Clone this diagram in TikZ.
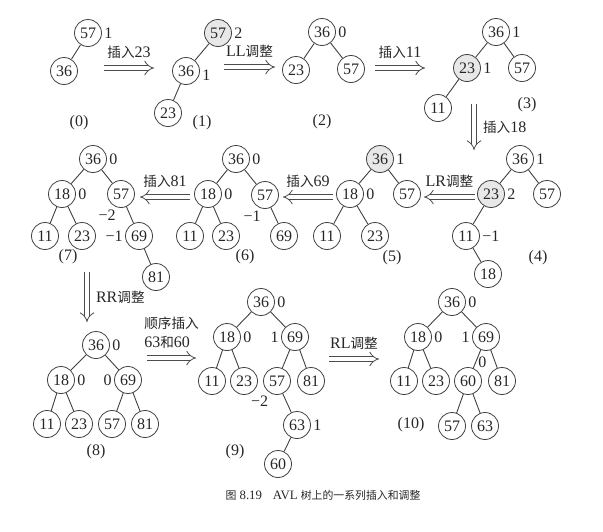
\documentclass[tikz,border=0pt]{standalone}
\usepackage{fontspec}
\setmainfont{Liberation Serif}
\newfontfamily\cjk[Scale=0.85]{Noto Sans CJK SC}
\usetikzlibrary{arrows.meta,positioning}

\begin{document}
\begin{tikzpicture}[x=0.5pt, y=-0.5pt,
    font=\fontsize{8}{9.5}\selectfont,
    vtx/.style={circle, draw=black!75, text=black!85, inner sep=0pt, minimum size=13.5pt},
    hot/.style={vtx, fill=gray!18},
    every label/.style={inner sep=1pt, text=black!85},
    tag/.style={text=black!85},
    trans/.style={draw=black!70, line width=0.4pt, double, double distance=2.2pt, -{Implies}},
    link/.style={draw=black!75, line width=0.45pt}
]
    \useasboundingbox (0,0) rectangle (603,531);

    % (0)
    \node[vtx, label=right:1] (t0a) at (88,33) {57};
    \node[vtx] (t0b) at (64,71) {36};
    \draw[link] (t0a) -- (t0b);
    \node[tag] (c0) at (79,123) {(0)};

    % insert 23
    \coordinate (r1s) at (104,68);
    \coordinate (r1e) at (154,68);
    \draw[trans] (r1s) -- node[tag, above=1pt] {{\cjk 插入}23} (r1e);

    % (1)
    \node[hot, label=right:2] (t1a) at (218,33) {57};
    \node[vtx, label={[yshift=-2pt]right:1}] (t1b) at (186,71) {36};
    \node[vtx] (t1c) at (168,113) {23};
    \draw[link] (t1a) -- (t1b) (t1b) -- (t1c);
    \node[tag] (c1) at (202,123) {(1)};

    % LL
    \coordinate (r2s) at (224,67);
    \coordinate (r2e) at (275,67);
    \draw[trans] (r2s) -- node[tag, above=1pt] {LL{\cjk 调整}} (r2e);

    % (2)
    \node[vtx, label=right:0] (t2a) at (322,32) {36};
    \node[vtx] (t2b) at (296,70) {23};
    \node[vtx] (t2c) at (351,69) {57};
    \draw[link] (t2a) -- (t2b) (t2a) -- (t2c);
    \node[tag] (c2) at (322,122) {(2)};

    % insert 11
    \coordinate (r3s) at (375,68);
    \coordinate (r3e) at (425,68);
    \draw[trans] (r3s) -- node[tag, above=1pt] {{\cjk 插入}11} (r3e);

    % (3)
    \node[vtx, label=right:1] (t3a) at (496,32) {36};
    \node[hot, label=right:1] (t3b) at (467,68) {23};
    \node[vtx] (t3c) at (522,68) {57};
    \node[vtx] (t3d) at (438,108) {11};
    \draw[link] (t3a) -- (t3b) (t3a) -- (t3c) (t3b) -- (t3d);
    \node[tag] (c3) at (527,105) {(3)};

    % insert 18
    \coordinate (r4s) at (474,104);
    \coordinate (r4e) at (474,150);
    \draw[trans] (r4s) -- node[tag, right=1pt] {{\cjk 插入}18} (r4e);

    % (4)
    \node[vtx, label=right:1] (t4a) at (520,159) {36};
    \node[hot, label=right:2] (t4b) at (491,194) {23};
    \node[vtx] (t4c) at (547,194) {57};
    \node[vtx, label=right:−1] (t4d) at (466,236) {11};
    \node[vtx] (t4e) at (488,274) {18};
    \draw[link] (t4a) -- (t4b) (t4a) -- (t4c) (t4b) -- (t4d) (t4d) -- (t4e);
    \node[tag] (c4) at (538,258) {(4)};

    % LR
    \coordinate (r5s) at (475,197);
    \coordinate (r5e) at (424,197);
    \draw[trans] (r5s) -- node[tag, above=1pt] {LR{\cjk 调整}} (r5e);

    % (5)
    \node[hot, label=right:1] (t5a) at (380,159) {36};
    \node[vtx, label=right:0] (t5b) at (350,194) {18};
    \node[vtx] (t5c) at (407,194) {57};
    \node[vtx] (t5d) at (327,236) {11};
    \node[vtx] (t5e) at (375,236) {23};
    \draw[link] (t5a) -- (t5b) (t5a) -- (t5c) (t5b) -- (t5d) (t5b) -- (t5e);
    \node[tag] (c5) at (392,258) {(5)};

    % insert 69
    \coordinate (r6s) at (333,197);
    \coordinate (r6e) at (283,197);
    \draw[trans] (r6s) -- node[tag, above=1pt] {{\cjk 插入}69} (r6e);

    % (6)
    \node[vtx, label=right:0] (t6a) at (236,159) {36};
    \node[vtx, label=right:0] (t6b) at (208,194) {18};
    \node[vtx, label=262:−1] (t6c) at (265,195) {57};
    \node[vtx] (t6d) at (190,236) {11};
    \node[vtx] (t6e) at (226,236) {23};
    \node[vtx] (t6f) at (284,236) {69};
    \draw[link] (t6a) -- (t6b) (t6a) -- (t6c) (t6b) -- (t6d) (t6b) -- (t6e) (t6c) -- (t6f);
    \node[tag] (c6) at (245,257) {(6)};

    % insert 81
    \coordinate (r7s) at (190,197);
    \coordinate (r7e) at (140,197);
    \draw[trans] (r7s) -- node[tag, above=1pt] {{\cjk 插入}81} (r7e);

    % (7)
    \node[vtx, label=right:0] (t7a) at (93,159) {36};
    \node[vtx, label=right:0] (t7b) at (62,194) {18};
    \node[vtx, label=258:−2] (t7c) at (121,194) {57};
    \node[vtx] (t7d) at (45,236) {11};
    \node[vtx] (t7e) at (82,236) {23};
    \node[vtx, label=left:−1] (t7f) at (139,236) {69};
    \node[vtx] (t7g) at (156,277) {81};
    \draw[link] (t7a) -- (t7b) (t7a) -- (t7c) (t7b) -- (t7d) (t7b) -- (t7e)
        (t7c) -- (t7f) (t7f) -- (t7g);
    \node[tag] (c7) at (68,257) {(7)};

    % RR
    \coordinate (r8s) at (87,272);
    \coordinate (r8e) at (87,322);
    \draw[trans] (r8s) -- node[tag, right=1pt] {RR{\cjk 调整}} (r8e);

    % (8)
    \node[vtx, label=right:0] (t8a) at (96,345) {36};
    \node[vtx, label=right:0] (t8b) at (61,380) {18};
    \node[vtx, label=left:0] (t8c) at (128,380) {69};
    \node[vtx] (t8d) at (47,424) {11};
    \node[vtx] (t8e) at (79,424) {23};
    \node[vtx] (t8f) at (112,424) {57};
    \node[vtx] (t8g) at (145,424) {81};
    \draw[link] (t8a) -- (t8b) (t8a) -- (t8c) (t8b) -- (t8d) (t8b) -- (t8e)
        (t8c) -- (t8f) (t8c) -- (t8g);
    \node[tag] (c8) at (96,452) {(8)};

    % insert 63, 60
    \coordinate (r9s) at (147,358);
    \coordinate (r9e) at (196,358);
    \draw[trans] (r9s) -- node[tag, above=1pt, align=left] {{\cjk 顺序插入}\\63{\cjk 和}60} (r9e);

    % (9)
    \node[vtx, label=right:0] (t9a) at (261,302) {36};
    \node[vtx, label=right:0] (t9b) at (227,337) {18};
    \node[vtx, label=left:1] (t9c) at (295,337) {69};
    \node[vtx] (t9d) at (212,381) {11};
    \node[vtx] (t9e) at (244,381) {23};
    \node[vtx, label=242:−2] (t9f) at (277,381) {57};
    \node[vtx] (t9g) at (311,381) {81};
    \node[vtx, label=right:1] (t9h) at (297,425) {63};
    \node[vtx] (t9i) at (278,464) {60};
    \draw[link] (t9a) -- (t9b) (t9a) -- (t9c) (t9b) -- (t9d) (t9b) -- (t9e)
        (t9c) -- (t9f) (t9c) -- (t9g) (t9f) -- (t9h) (t9h) -- (t9i);
    \node[tag] (c9) at (235,452) {(9)};

    % RL
    \coordinate (r10s) at (329,359);
    \coordinate (r10e) at (379,359);
    \draw[trans] (r10s) -- node[tag, above=1pt] {RL{\cjk 调整}} (r10e);

    % (10)
    \node[vtx, label=right:0] (t10a) at (452,302) {36};
    \node[vtx, label=right:0] (t10b) at (418,337) {18};
    \node[vtx, label=left:1] (t10c) at (486,337) {69};
    \node[vtx] (t10d) at (404,381) {11};
    \node[vtx] (t10e) at (436,381) {23};
    \node[vtx, label=55:0] (t10f) at (468,381) {60};
    \node[vtx] (t10g) at (502,381) {81};
    \node[vtx] (t10h) at (452,426) {57};
    \node[vtx] (t10i) at (485,426) {63};
    \draw[link] (t10a) -- (t10b) (t10a) -- (t10c) (t10b) -- (t10d) (t10b) -- (t10e)
        (t10c) -- (t10f) (t10c) -- (t10g) (t10f) -- (t10h) (t10f) -- (t10i);
    \node[tag] (c10) at (411,425) {(10)};

    % caption
    \node[tag, font=\fontsize{6.4}{8}\selectfont] (cap) at (323,495)
        {{\cjk 图} 8.19{\cjk 　}AVL {\cjk 树上的一系列插入和调整}};
\end{tikzpicture}
\end{document}
